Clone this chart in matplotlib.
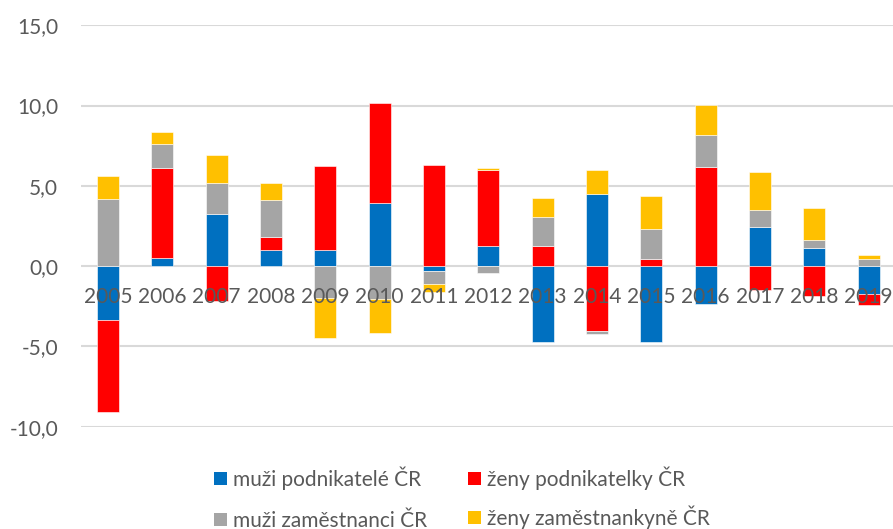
import matplotlib
matplotlib.use("Agg")
import matplotlib.pyplot as plt
import numpy as np
from matplotlib.ticker import FuncFormatter
from matplotlib.patches import Patch

years = ["2005", "2006", "2007", "2008", "2009", "2010", "2011", "2012",
         "2013", "2014", "2015", "2016", "2017", "2018", "2019"]
muzi_podnikatele = [-3.36, 0.50, 3.27, 1.00, 1.00, 3.96, -0.30, 1.24, -4.71, 4.50, -4.75, -2.36, 2.46, 1.10, -1.74]
zeny_podnikatelky = [-5.75, 5.64, -2.16, 0.84, 5.22, 6.22, 6.28, 4.73, 1.24, -4.03, 0.47, 6.20, -1.47, -1.85, -0.69]
muzi_zamestnanci = [4.21, 1.45, 1.93, 2.27, -2.00, -2.05, -0.82, -0.42, 1.83, -0.20, 1.87, 1.99, 1.06, 0.54, 0.47]
zeny_zamestnankyne = [1.41, 0.77, 1.73, 1.09, -2.50, -2.10, -0.52, 0.15, 1.18, 1.47, 2.03, 1.85, 2.35, 1.99, 0.23]
series_names = ["muži podnikatelé ČR", "ženy podnikatelky ČR", "muži zaměstnanci ČR", "ženy zaměstnankyně ČR"]
colors = ["#0070C0", "#FF0000", "#A5A5A5", "#FFC000"]
yticks = [-10, -5, 0, 5, 10, 15]

plt.rcParams['font.family'] = ['Lato', 'DejaVu Sans']
txt = "#595959"

fig = plt.figure(figsize=(8.93, 5.29), dpi=100)
W, H = 893, 529
left, right = 80.8, 895.8
top, bottom = 25.3, 426.7
ax = fig.add_axes([left / W, 1 - bottom / H, (right - left) / W, (bottom - top) / H])

x = np.arange(len(years))
data = [muzi_podnikatele, zeny_podnikatelky, muzi_zamestnanci, zeny_zamestnankyne]
pos_base = np.zeros(len(years))
neg_base = np.zeros(len(years))
for vals, c, name in zip(data, colors, series_names):
    v = np.array(vals)
    base = np.where(v >= 0, pos_base, neg_base)
    ax.bar(x, v, bottom=base, width=0.4, color=c, edgecolor='white', linewidth=0.4, zorder=2)
    pos_base = pos_base + np.where(v >= 0, v, 0)
    neg_base = neg_base + np.where(v < 0, v, 0)

ax.set_xlim(-0.5, len(years) - 0.5)
ax.set_ylim(-10, 15)
ax.set_yticks(yticks)
ax.yaxis.set_major_formatter(FuncFormatter(lambda v, p: f"{v:.1f}".replace(".", ",")))
for yv in yticks:
    ax.axhline(yv, color="#D9D9D9", linewidth=1.5, zorder=0)

ax.set_xticks(x)
ax.set_xticklabels(years)
ax.spines['bottom'].set_position(('data', 0))
for s in ax.spines.values():
    s.set_visible(False)
ax.tick_params(axis='x', length=0, pad=15, labelsize=15, labelcolor=txt)
ax.tick_params(axis='y', length=0, pad=16.4, labelsize=15, labelcolor=txt)
ax.xaxis.set_zorder(5)

# legend: one entry per legend box so each row sits exactly where the reference has it
anchors = [(214, 478), (468, 478), (214, 521), (468, 517)]
for name, c, (lx, ly) in zip(series_names, colors, anchors):
    leg = fig.legend([Patch(facecolor=c)], [name], loc='center left',
                     bbox_to_anchor=(lx / W, 1 - ly / H), frameon=False,
                     fontsize=15, labelcolor=txt, handlelength=0.6, handleheight=0.6,
                     handletextpad=0.3, borderaxespad=0, borderpad=0)

fig.savefig("out.png", dpi=100)
